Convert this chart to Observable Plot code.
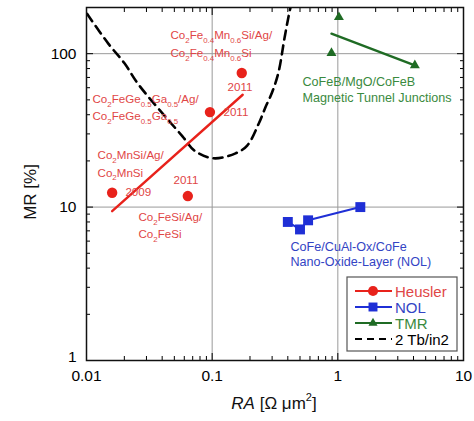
<!DOCTYPE html>
<html>
<head>
<meta charset="utf-8">
<script src="https://cdn.jsdelivr.net/npm/d3@7"></script>
<script src="https://cdn.jsdelivr.net/npm/@observablehq/plot@0.6"></script>
<style>
html,body{margin:0;padding:0;background:#fff;}
</style>
</head>
<body>
<div id="chart"></div>
<script>
// ---- data ----
const heuslerRA = [0.016, 0.064, 0.096, 0.172];
const heuslerMR = [12.4, 11.8, 41.6, 74.8];
const heuslerFitRA = [0.016, 0.175];
const heuslerFitMR = [9.4, 54];
const nolRA = [0.40, 0.50, 0.58, 1.51];
const nolMR = [8.0, 7.15, 8.2, 10.0];
const tmrRA = [1.02, 0.89, 4.1];
const tmrMR = [173, 101, 84];
const tmrFitRA = [0.89, 4.1];
const tmrFitMR = [135, 84];
const densityRA = [0.0101, 0.01496, 0.02006, 0.02608, 0.05805, 0.0730, 0.1025, 0.1534, 0.190, 0.235, 0.266, 0.300, 0.337, 0.376, 0.407, 0.420];
const densityMR = [182, 115.9, 86.5, 62.6, 28.9, 23.2, 20.8, 22.4, 25.2, 35.1, 44.9, 56, 75.5, 125.8, 177.7, 200];

const xTicks = [0.01, 0.1, 1, 10];
const yTicks = [1, 10, 100];
const yTicksUpper = [10, 100];
const yTicksLower = [1];
const xGrid = [0.1, 1];
const yGrid = [10, 100];
const xMinor = [2,3,4,5,6,7,8,9].flatMap(m => [m*0.01, m*0.1, m*1]);
const yMinor = [2,3,4,5,6,7,8,9].flatMap(m => [m*1, m*10]);

const noteText = [
  "Co_{2}Fe_{0.4}Mn_{0.6}Si/Ag/", "Co_{2}Fe_{0.4}Mn_{0.6}Si", "2011",
  "Co_{2}FeGe_{0.5}Ga_{0.5}/Ag/", "Co_{2}FeGe_{0.5}Ga_{0.5}", "2011",
  "Co_{2}MnSi/Ag/", "Co_{2}MnSi", "2009", "2011",
  "Co_{2}FeSi/Ag/", "Co_{2}FeSi",
  "CoFeB/MgO/CoFeB", "Magnetic Tunnel Junctions",
  "CoFe/CuAl-Ox/CoFe", "Nano-Oxide-Layer (NOL)"
];
const noteRA = [0.0466, 0.0466, 0.1324, 0.01116, 0.01116, 0.123, 0.01224, 0.01224, 0.0204, 0.0492, 0.0259, 0.0259, 0.523, 0.523, 0.42, 0.42];
const noteMR = [131.5, 100.5, 60.3, 50.4, 39.0, 41.4, 21.7, 16.7, 12.5, 14.9, 8.57, 6.64, 65.5, 51.5, 5.46, 4.36];
const noteGroup = ["Heusler","Heusler","Heusler","Heusler","Heusler","Heusler","Heusler","Heusler","Heusler","Heusler","Heusler","Heusler","TMR","TMR","NOL","NOL"];

const legendNames = ["Heusler", "NOL", "TMR", "2 Tb/in2"];

// ---- styles ----
const markColor = {Heusler: "#e8221b", NOL: "#1f2fd6", TMR: "#1f6b24", "2 Tb/in2": "#000"};
const textColor = {Heusler: "#df4646", NOL: "#3344c4", TMR: "#3a8a3e", "2 Tb/in2": "#000"};
const legendSymbol = {Heusler: d3.symbolCircle, NOL: d3.symbolSquare, TMR: d3.symbolTriangle};
const legendSize = {Heusler: 80, NOL: 80, TMR: 36};

const heusler = heuslerRA.map((x, i) => ({x, y: heuslerMR[i]}));
const heuslerFit = heuslerFitRA.map((x, i) => ({x, y: heuslerFitMR[i]}));
const nol = nolRA.map((x, i) => ({x, y: nolMR[i]}));
const tmr = tmrRA.map((x, i) => ({x, y: tmrMR[i]}));
const tmrFit = tmrFitRA.map((x, i) => ({x, y: tmrFitMR[i]}));
const density = densityRA.map((x, i) => ({x, y: densityMR[i]}));
const notes = noteText.map((t, i) => ({t, x: noteRA[i], y: noteMR[i], g: noteGroup[i]}));

const font = "'Liberation Sans', Arial, Helvetica, sans-serif";

const chart = Plot.plot({
  width: 474,
  height: 421,
  marginLeft: 86,
  marginRight: 11,
  marginTop: 7,
  marginBottom: 61,
  style: {fontFamily: font, background: "white", overflow: "visible"},
  x: {type: "log", domain: [0.01, 10]},
  y: {type: "log", domain: [1, 200]},
  marks: [
    Plot.gridX(xGrid, {stroke: "#9a9a9a", strokeOpacity: 1, strokeWidth: 1}),
    Plot.gridY(yGrid, {stroke: "#9a9a9a", strokeOpacity: 1, strokeWidth: 1}),
    // inward ticks on all four sides
    Plot.axisX({anchor: "bottom", ticks: xTicks, tickSize: -7, fill: "none", label: null, strokeWidth: 1}),
    Plot.axisX({anchor: "bottom", ticks: xMinor, tickSize: -4, fill: "none", label: null, strokeWidth: 1}),
    Plot.axisX({anchor: "top", ticks: xTicks, tickSize: -7, fill: "none", label: null, strokeWidth: 1}),
    Plot.axisX({anchor: "top", ticks: xMinor, tickSize: -4, fill: "none", label: null, strokeWidth: 1}),
    Plot.axisY({anchor: "left", ticks: yTicks, tickSize: -7, fill: "none", label: null, strokeWidth: 1}),
    Plot.axisY({anchor: "left", ticks: yMinor, tickSize: -4, fill: "none", label: null, strokeWidth: 1}),
    Plot.axisY({anchor: "right", ticks: yTicks, tickSize: -7, fill: "none", label: null, strokeWidth: 1}),
    Plot.axisY({anchor: "right", ticks: yMinor, tickSize: -4, fill: "none", label: null, strokeWidth: 1}),
    // tick labels
    Plot.axisX({anchor: "bottom", ticks: xTicks, tickSize: 0, tickPadding: 9, fontSize: 15.5, tickFormat: d => String(d), label: null}),
    Plot.axisY({anchor: "left", ticks: yTicksUpper, tickSize: 0, tickPadding: 10, fontSize: 15.5, tickFormat: d => String(d), label: null}),
    Plot.axisY({anchor: "left", ticks: yTicksLower, tickSize: 0, tickPadding: 10, fontSize: 15.5, dy: -3, tickFormat: d => String(d), label: null}),
    // 2 Tb/in2 boundary
    Plot.line(density, {x: "x", y: "y", stroke: markColor["2 Tb/in2"], strokeWidth: 2.6, strokeDasharray: "9,6", curve: "catmull-rom", clip: true}),
    // Heusler
    Plot.line(heuslerFit, {x: "x", y: "y", stroke: markColor.Heusler, strokeWidth: 2.4}),
    Plot.dot(heusler, {x: "x", y: "y", r: 5.2, fill: markColor.Heusler, stroke: "none", symbol: "circle"}),
    // NOL
    Plot.line(nol, {x: "x", y: "y", stroke: markColor.NOL, strokeWidth: 2}),
    Plot.dot(nol, {x: "x", y: "y", r: 5.6, fill: markColor.NOL, stroke: "none", symbol: "square"}),
    // TMR
    Plot.line(tmrFit, {x: "x", y: "y", stroke: markColor.TMR, strokeWidth: 2.4}),
    Plot.dot(tmr, {x: "x", y: "y", r: 3.7, fill: markColor.TMR, stroke: "none", symbol: "triangle"}),
    // annotations
    Plot.text(notes.filter(d => d.g === "Heusler"), {x: "x", y: "y", text: "t", textAnchor: "start", fill: textColor.Heusler, fontSize: 11.6}),
    Plot.text(notes.filter(d => d.g !== "Heusler"), {x: "x", y: "y", text: "t", textAnchor: "start", fill: d => textColor[d.g], fontSize: 12.6}),
    Plot.frame({stroke: "#111", strokeWidth: 1.5})
  ]
});

document.getElementById("chart").appendChild(chart);
const svg = d3.select(chart);

// subscripts in annotations: "_{...}" marks a subscript
svg.selectAll("text").each(function () {
  const s = this.textContent;
  if (!s.includes("_{")) return;
  const parts = s.split(/_\{([^}]*)\}/);
  const t = d3.select(this);
  const base = 11.6;
  t.selectAll("*").remove();
  t.text(null);
  let shifted = false;
  parts.forEach((p, i) => {
    if (!p) return;
    const sp = t.append("tspan").text(p);
    if (i % 2 === 1) {
      sp.attr("font-size", base * 0.68);
      if (!shifted) sp.attr("dy", 3.5);
      shifted = true;
    } else {
      if (shifted) sp.attr("dy", -3.5);
      shifted = false;
    }
  });
});

// axis titles
svg.append("text")
  .attr("transform", "translate(30,192) rotate(-90)")
  .attr("text-anchor", "middle")
  .attr("dominant-baseline", "central")
  .attr("font-size", 17)
  .attr("fill", "#111")
  .text("MR [%]");
const xt = svg.append("text")
  .attr("x", 274).attr("y", 403)
  .attr("text-anchor", "middle")
  .attr("dominant-baseline", "central")
  .attr("font-size", 17)
  .attr("fill", "#111");
xt.append("tspan").attr("font-style", "italic").text("RA");
xt.append("tspan").text(" [Ω μm");
xt.append("tspan").attr("font-size", 11).attr("dy", -6).text("2");
xt.append("tspan").attr("dy", 6).text("]");

// legend
const lg = svg.append("g").attr("font-size", 15).attr("font-family", font).attr("text-anchor", "start");
lg.append("rect")
  .attr("x", 347).attr("y", 277).attr("width", 110).attr("height", 74)
  .attr("fill", "white").attr("stroke", "#555").attr("stroke-width", 1.2);
legendNames.forEach((name, i) => {
  const y = 291 + i * 16;
  const row = lg.append("g");
  row.append("line")
    .attr("x1", 355).attr("x2", 392).attr("y1", y).attr("y2", y)
    .attr("stroke", markColor[name]).attr("stroke-width", 2)
    .attr("stroke-dasharray", name === "2 Tb/in2" ? "7,5" : null);
  if (legendSymbol[name]) {
    row.append("path")
      .attr("transform", `translate(373,${y})`)
      .attr("d", d3.symbol(legendSymbol[name], legendSize[name])())
      .attr("fill", markColor[name]);
  }
  row.append("text")
    .attr("x", 395).attr("y", y)
    .attr("text-anchor", "start")
    .attr("dominant-baseline", "central")
    .attr("fill", textColor[name])
    .text(name);
});
</script>
</body>
</html>
